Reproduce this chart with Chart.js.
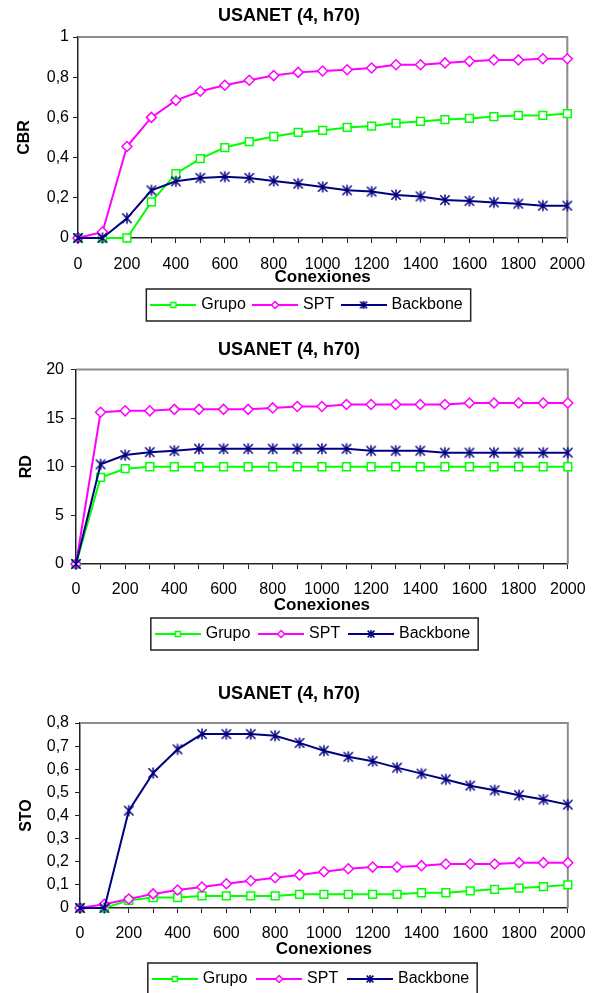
<!DOCTYPE html>
<html>
<head>
<meta charset="utf-8">
<script src="https://cdn.jsdelivr.net/npm/chart.js@4.4.1/dist/chart.umd.min.js"></script>
<style>
  html, body { margin: 0; padding: 0; background: #fff; overflow: hidden; }
  .box { position: absolute; left: 0; width: 597px; }
</style>
</head>
<body>
<div class="box" style="top:0;height:328px"><canvas id="cbrChart"></canvas></div>
<div class="box" style="top:328px;height:326px"><canvas id="rdChart"></canvas></div>
<div class="box" style="top:654px;height:345px"><canvas id="stoChart"></canvas></div>
<script>
// eje x (conexiones)
const conexiones = [0, 100, 200, 300, 400, 500, 600, 700, 800, 900, 1000,
  1100, 1200, 1300, 1400, 1500, 1600, 1700, 1800, 1900, 2000];
const seriesNames = ['Grupo', 'SPT', 'Backbone'];

// CBR
const cbrGrupo = [0, 0, 0, 0.18, 0.32, 0.395, 0.45, 0.48, 0.505, 0.525, 0.535,
  0.55, 0.557, 0.572, 0.58, 0.589, 0.595, 0.604, 0.61, 0.61, 0.619];
const cbrSpt = [0, 0.03, 0.455, 0.6, 0.685, 0.73, 0.76, 0.785, 0.808, 0.824, 0.831,
  0.837, 0.846, 0.862, 0.862, 0.871, 0.879, 0.886, 0.886, 0.892, 0.892];
const cbrBackbone = [0, 0, 0.098, 0.237, 0.282, 0.299, 0.305, 0.299, 0.284, 0.27, 0.254,
  0.237, 0.231, 0.214, 0.207, 0.189, 0.184, 0.177, 0.171, 0.161, 0.161];

// RD
const rdGrupo = [0, 8.9, 9.8, 10, 10, 10, 10, 10, 10, 10, 10,
  10, 10, 10, 10, 10, 10, 10, 10, 10, 10];
const rdSpt = [0, 15.6, 15.75, 15.75, 15.9, 15.9, 15.9, 15.9, 16.05, 16.2, 16.2,
  16.4, 16.4, 16.4, 16.4, 16.4, 16.55, 16.55, 16.55, 16.55, 16.55];
const rdBackbone = [0, 10.25, 11.2, 11.5, 11.65, 11.85, 11.85, 11.85, 11.85, 11.85, 11.85,
  11.85, 11.65, 11.65, 11.65, 11.45, 11.45, 11.45, 11.45, 11.45, 11.45];

// STO
const stoGrupo = [0, 0, 0.033, 0.045, 0.045, 0.052, 0.052, 0.052, 0.052, 0.059, 0.059,
  0.059, 0.059, 0.059, 0.066, 0.066, 0.074, 0.081, 0.086, 0.092, 0.1];
const stoSpt = [0, 0.016, 0.039, 0.061, 0.078, 0.091, 0.105, 0.118, 0.131, 0.143, 0.157,
  0.17, 0.177, 0.177, 0.183, 0.19, 0.19, 0.19, 0.196, 0.196, 0.196];
const stoBackbone = [0, 0, 0.421, 0.584, 0.686, 0.752, 0.752, 0.752, 0.745, 0.714, 0.68,
  0.654, 0.635, 0.607, 0.581, 0.556, 0.529, 0.509, 0.488, 0.469, 0.447];

const FONT = '"Liberation Sans", Arial, sans-serif';
const colors = ['#00ff00', '#ff00ff', '#000080'];
const shapes = ['square', 'diamond', 'star'];

function drawMark(ctx, shape, cx, cy, r) {
  ctx.beginPath();
  if (shape === 'square') {
    ctx.rect(cx - r, cy - r, 2 * r, 2 * r);
  } else if (shape === 'diamond') {
    ctx.moveTo(cx, cy - r); ctx.lineTo(cx + r, cy);
    ctx.lineTo(cx, cy + r); ctx.lineTo(cx - r, cy); ctx.closePath();
  } else {
    const d = r * 0.85;
    ctx.moveTo(cx - d, cy - d); ctx.lineTo(cx + d, cy + d);
    ctx.moveTo(cx + d, cy - d); ctx.lineTo(cx - d, cy + d);
    ctx.moveTo(cx, cy - r); ctx.lineTo(cx, cy + r);
  }
  if (shape !== 'star') {
    ctx.fillStyle = '#fff';
    ctx.fill();
  }
  ctx.stroke();
}

// icono: marcador solo (grafico) o linea + marcador (leyenda)
function makeIcon(shape, color, r, lineLen) {
  const c = document.createElement('canvas');
  c.width = lineLen || 14;
  c.height = 14;
  const ctx = c.getContext('2d');
  ctx.strokeStyle = color;
  if (lineLen) {
    ctx.lineWidth = 2;
    ctx.beginPath(); ctx.moveTo(0, 7); ctx.lineTo(lineLen, 7); ctx.stroke();
  }
  ctx.lineWidth = 1.5;
  drawMark(ctx, shape, c.width / 2, 7, r);
  return c;
}

const starPoint = makeIcon('star', colors[2], 5.5);
const legendIcons = [
  makeIcon('square', colors[0], 2.5, 46),
  makeIcon('diamond', colors[1], 3.5, 46),
  makeIcon('star', colors[2], 4, 46)
];

// marco gris del area, desplazamiento y recuadro de la leyenda
const frame = {
  id: 'frame',
  afterLayout(chart, args, opts) {
    chart.legend.left += opts.dx;
    chart.legend.right += opts.dx;
  },
  beforeDatasetsDraw(chart) {
    const a = chart.chartArea, ctx = chart.ctx;
    ctx.save();
    ctx.strokeStyle = '#8c8c8c';
    ctx.lineWidth = 2;
    ctx.beginPath();
    ctx.moveTo(a.left, a.top); ctx.lineTo(a.right, a.top); ctx.lineTo(a.right, a.bottom);
    ctx.stroke();
    ctx.restore();
  },
  afterDraw(chart) {
    const hb = chart.legend.legendHitBoxes;
    if (!hb || !hb.length) return;
    const first = hb[0], last = hb[hb.length - 1];
    const cy = first.top + first.height / 2;
    const ctx = chart.ctx;
    ctx.save();
    ctx.strokeStyle = '#222';
    ctx.lineWidth = 1.5;
    ctx.strokeRect(first.left - 7, cy - 16, last.left + last.width + 8 - (first.left - 7), 32);
    ctx.restore();
  }
};

function fmt(v) {
  return String(Number(v.toFixed(2))).replace('.', ',');
}

function makeChart(id, c) {
  const series = [c.grupo, c.spt, c.backbone];
  return new Chart(document.getElementById(id), {
    type: 'line',
    data: {
      labels: conexiones,
      datasets: series.map((d, i) => ({
        label: seriesNames[i],
        data: d,
        borderColor: colors[i],
        backgroundColor: '#fff',
        borderWidth: 2,
        pointStyle: i === 2 ? starPoint : (i === 0 ? 'rect' : 'rectRot'),
        pointRadius: i === 0 ? 5.5 : 5,
        pointBorderWidth: 1.5,
        pointBackgroundColor: '#fff',
        tension: 0,
        clip: false,
        order: 3 - i
      }))
    },
    plugins: [frame],
    options: {
      responsive: true,
      maintainAspectRatio: false,
      animation: false,
      events: [],
      layout: { padding: { left: 10, right: 29, top: 0, bottom: c.padBottom } },
      plugins: {
        frame: { dx: c.legendDx },
        tooltip: { enabled: false },
        title: {
          display: true,
          text: 'USANET (4, h70)',
          color: '#000',
          font: { family: FONT, size: 18, weight: 'bold' },
          padding: { top: c.titleTop, bottom: c.titleBottom }
        },
        legend: {
          position: 'bottom',
          labels: {
            usePointStyle: true,
            pointStyleWidth: 40,
            padding: c.legendPad,
            color: '#000',
            font: { family: FONT, size: 16 },
            generateLabels: chart => chart.data.datasets.map((ds, i) => ({
              text: ds.label,
              pointStyle: legendIcons[i],
              fillStyle: ds.borderColor,
              strokeStyle: ds.borderColor,
              lineWidth: 0,
              hidden: false,
              datasetIndex: i
            }))
          }
        }
      },
      scales: {
        x: {
          grid: { drawOnChartArea: false, drawTicks: true, tickLength: 5, color: '#222' },
          border: { color: '#222', width: 1.5 },
          ticks: {
            autoSkip: false,
            maxRotation: 0,
            padding: c.xPad,
            color: '#000',
            font: { family: FONT, size: 16 },
            callback: (v, i) => (i % 2 ? '' : conexiones[i])
          },
          title: {
            display: true,
            text: 'Conexiones',
            color: '#000',
            font: { family: FONT, size: 17, weight: 'bold' },
            padding: 0
          },
          afterFit: s => { s.height = c.xHeight; }
        },
        y: {
          min: 0,
          max: c.max,
          grid: { drawOnChartArea: false, drawTicks: true, tickLength: 5, color: '#222' },
          border: { color: '#222', width: 1.5 },
          ticks: {
            stepSize: c.step,
            padding: c.yPad,
            color: '#000',
            font: { family: FONT, size: 16 },
            callback: v => fmt(v)
          },
          title: {
            display: true,
            text: c.yTitle,
            color: '#000',
            font: { family: FONT, size: 16, weight: 'bold' },
            padding: { top: c.yTitlePad, bottom: 0 }
          },
          afterFit: s => { s.width = c.plotLeft - 10; }
        }
      }
    }
  });
}

makeChart('cbrChart', {
  grupo: cbrGrupo, spt: cbrSpt, backbone: cbrBackbone,
  yTitle: 'CBR', max: 1, step: 0.2,
  titleTop: 5.7, titleBottom: 9.7, xPad: 11.9, xHeight: 49.7,
  legendPad: 9.3, padBottom: 5, plotLeft: 78, yPad: 4, yTitlePad: 4.9, legendDx: 19
});

makeChart('rdChart', {
  grupo: rdGrupo, spt: rdSpt, backbone: rdBackbone,
  yTitle: 'RD', max: 20, step: 5,
  titleTop: 11.2, titleBottom: 8.7, xPad: 11.4, xHeight: 51.2,
  legendPad: 10.8, padBottom: 2, plotLeft: 76, yPad: 7, yTitlePad: 7.1, legendDx: 25
});

makeChart('stoChart', {
  grupo: stoGrupo, spt: stoSpt, backbone: stoBackbone,
  yTitle: 'STO', max: 0.8, step: 0.1,
  titleTop: 29.2, titleBottom: 18.2, xPad: 11.4, xHeight: 51.2,
  legendPad: 11.8, padBottom: 2, plotLeft: 80, yPad: 6, yTitlePad: 7.1, legendDx: 23
});
</script>
</body>
</html>
